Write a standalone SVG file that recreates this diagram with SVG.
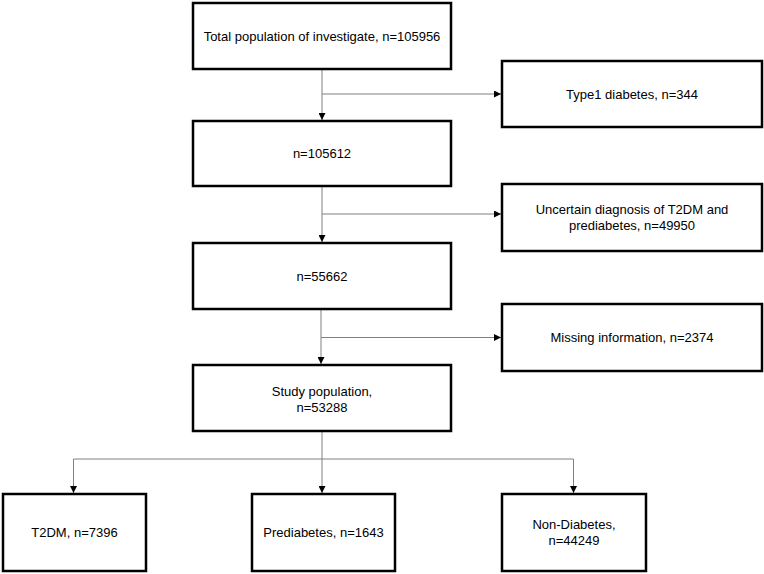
<svg xmlns="http://www.w3.org/2000/svg" width="764" height="574" viewBox="0 0 764 574">
<defs>
<marker id="arr" markerUnits="userSpaceOnUse" markerWidth="7" markerHeight="7" refX="7" refY="3.5" orient="auto">
<path d="M0,0 L7,3.5 L0,7 z" fill="#000"/>
</marker>
<style>
.box{fill:#fff;stroke:#000;stroke-width:2.5}
.t{font-family:"Liberation Sans",Arial,sans-serif;font-size:13px;fill:#000;text-anchor:middle}
.c{fill:none;stroke:#808080;stroke-width:1}
.a{marker-end:url(#arr)}
</style>
</defs>
<rect width="764" height="574" fill="#fff"/>
<g id="connectors">
<line class="c a" x1="322" y1="70" x2="322" y2="120"/>
<line class="c a" x1="322" y1="94" x2="501" y2="94"/>
<line class="c a" x1="322" y1="187" x2="322" y2="242"/>
<line class="c a" x1="322" y1="214" x2="501" y2="214"/>
<line class="c a" x1="321" y1="310" x2="321" y2="364"/>
<line class="c a" x1="321" y1="337.5" x2="501" y2="337.5"/>
<line class="c a" x1="322" y1="432" x2="322" y2="493"/>
<polyline class="c a" points="322,459 73.5,459 73.5,493"/>
<polyline class="c a" points="322,459 573.5,459 573.5,493"/>
</g>
<g id="n1"><rect class="box" x="193" y="3" width="258" height="66"/><text class="t" x="322" y="40.5">Total population of investigate, n=105956</text></g>
<g id="n2"><rect class="box" x="193" y="121" width="258" height="65"/><text class="t" x="322" y="158">n=105612</text></g>
<g id="n3"><rect class="box" x="193" y="243" width="258" height="66"/><text class="t" x="322" y="280.5">n=55662</text></g>
<g id="n4"><rect class="box" x="193" y="365" width="258" height="66"/><text class="t" x="322" y="395.5">Study population,</text><text class="t" x="322" y="411.5">n=53288</text></g>
<g id="e1"><rect class="box" x="502" y="61" width="260" height="66"/><text class="t" x="632" y="98.5">Type1 diabetes, n=344</text></g>
<g id="e2"><rect class="box" x="502" y="184" width="260" height="67"/><text class="t" x="632" y="214">Uncertain diagnosis of T2DM and</text><text class="t" x="632" y="230">prediabetes, n=49950</text></g>
<g id="e3"><rect class="box" x="502" y="304" width="260" height="67"/><text class="t" x="632" y="342">Missing information, n=2374</text></g>
<g id="o1"><rect class="box" x="3" y="494" width="143" height="77"/><text class="t" x="74.5" y="537">T2DM, n=7396</text></g>
<g id="o2"><rect class="box" x="252" y="494" width="143" height="77"/><text class="t" x="323.5" y="537">Prediabetes, n=1643</text></g>
<g id="o3"><rect class="box" x="502" y="494" width="144" height="77"/><text class="t" x="574" y="529">Non-Diabetes,</text><text class="t" x="574" y="545">n=44249</text></g>
</svg>
